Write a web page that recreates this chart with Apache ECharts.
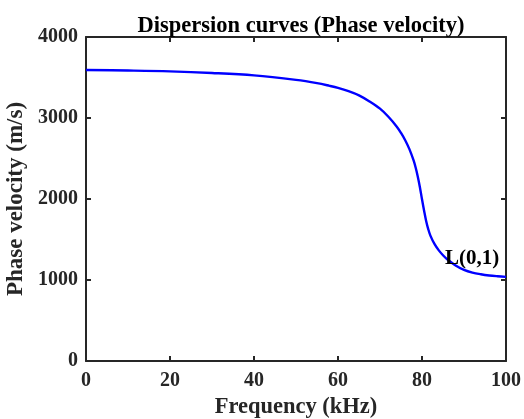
<!DOCTYPE html>
<html><head><meta charset="utf-8">
<script src="https://cdn.jsdelivr.net/npm/echarts@6/dist/echarts.min.js"></script>
<style>html,body{margin:0;padding:0;background:#fff}#c{width:524px;height:419px}</style>
</head><body><div id="c"></div>
<script>
const frequency = [0,10,20,30,40,50,55,58,60,62.5,65,67.5,70,72,74,75,76,77,78,78.5,79,79.5,80,80.5,81,81.5,82,83,84,85,86,88,90,92,94,96,98,100];
const phaseVelocity = [3592,3586,3576,3556,3526,3470,3430,3397,3372,3332,3280,3205,3115,3015,2893,2816,2726,2616,2476,2386,2276,2146,1996,1856,1726,1626,1548,1442,1366,1306,1256,1180,1126,1092,1071,1056,1046,1038];
const modeLabel = 'L(0,1)';
const labelAt = [85.5, 1260];
const xTicks = [0,20,40,60,80,100];
const yTicks = [0,1000,2000,3000,4000];

const font = '"Liberation Serif","Times New Roman",serif';
const axisCol = '#262626';
const chart = echarts.init(document.getElementById('c'));
const boxAxis = {
  min: 0, axisLine:{show:true,onZero:false,lineStyle:{color:axisCol,width:2}},
  axisTick:{show:true,inside:true,length:5,lineStyle:{color:axisCol,width:2}},
  axisLabel:{show:false}, splitLine:{show:false}
};
chart.setOption({
  animation:false,
  title:{text:'Dispersion curves (Phase velocity)',left:296,textAlign:'center',top:10,
    textStyle:{fontFamily:font,fontWeight:'bold',fontSize:22.5,color:'#000'}},
  grid:{left:86,right:18,top:37,bottom:58,containLabel:false,outerBoundsMode:'none'},
  xAxis:[{type:'value',min:0,max:100,interval:20,position:'bottom',
    name:'Frequency (kHz)',nameLocation:'middle',nameGap:35,
    nameTextStyle:{fontFamily:font,fontWeight:'bold',fontSize:22.5,color:'#262626'},
    axisLine:{show:true,onZero:false,lineStyle:{color:axisCol,width:2}},
    axisTick:{show:true,inside:true,length:5,lineStyle:{color:axisCol,width:2}},
    axisLabel:{fontFamily:font,fontWeight:'bold',fontSize:20,color:'#262626',margin:10,
      formatter:v=>xTicks.includes(v)?String(v):''},
    splitLine:{show:false}},
    Object.assign({type:'value',max:100,interval:20,position:'top'},boxAxis)],
  yAxis:[{type:'value',min:0,max:4000,interval:1000,position:'left',
    name:'Phase velocity (m/s)',nameLocation:'middle',nameGap:54,
    nameTextStyle:{fontFamily:font,fontWeight:'bold',fontSize:23,color:'#262626'},
    axisLine:{show:true,onZero:false,lineStyle:{color:axisCol,width:2}},
    axisTick:{show:true,inside:true,length:5,lineStyle:{color:axisCol,width:2}},
    axisLabel:{fontFamily:font,fontWeight:'bold',fontSize:20,color:'#262626',margin:8,
      formatter:v=>yTicks.includes(v)?String(v):''},
    splitLine:{show:false}},
    Object.assign({type:'value',max:4000,interval:1000,position:'right'},boxAxis)],
  series:[{type:'line',data:frequency.map((f,i)=>[f,phaseVelocity[i]]),
    smooth:0.35,showSymbol:false,lineStyle:{color:'#0000ff',width:2.4},
    markPoint:{symbol:'circle',symbolSize:0,silent:true,
      data:[{coord:labelAt,label:{show:true,formatter:modeLabel,position:'right',distance:0,
        fontFamily:font,fontWeight:'bold',fontSize:21,color:'#000'}}]}}]
});
</script></body></html>
